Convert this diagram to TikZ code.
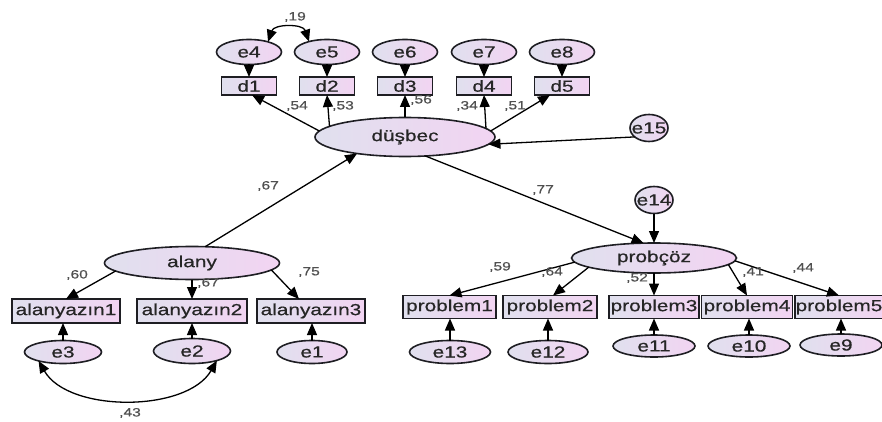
\documentclass[tikz,border=0pt]{standalone}
\usepackage{fontspec}
\setmainfont[FakeStretch=1.3,FakeBold=0.6]{Liberation Sans}
\usetikzlibrary{shapes.geometric,arrows.meta,calc}
\definecolor{latL}{RGB}{224,224,238}
\definecolor{latR}{RGB}{242,212,242}
\definecolor{edgec}{RGB}{30,30,35}
\definecolor{labc}{RGB}{80,80,80}
\newcommand\ndfont{\fontsize{16}{16}\selectfont}
\newcommand\lbfont{\fontsize{12}{12}\selectfont}
\begin{document}
\begin{tikzpicture}[x=1pt,y=-1pt,
 lat/.style={ellipse, draw=edgec, line width=1.6pt, left color=latL, right color=latR, inner sep=0pt, outer sep=0pt, font=\ndfont, text=black!85},
 obs/.style={rectangle, draw=edgec, line width=1.6pt, left color=latL, right color=latR, inner sep=0pt, outer sep=0pt, font=\ndfont, text=black!85},
 pth/.style={-{Triangle[length=12pt,width=10pt]}, line width=1.3pt, draw=black},
 cov/.style={{Triangle[length=12pt,width=10pt]}-{Triangle[length=12pt,width=10pt]}, line width=1.3pt, draw=black},
 lab/.style={font=\lbfont, text=labc, inner sep=0pt}]
\useasboundingbox[fill=white] (0,0) rectangle (882,422);

% top error terms
\node[lat, minimum width=65pt, minimum height=25pt] (e4) at (249,52) {e4};
\node[lat, minimum width=65pt, minimum height=25pt] (e5) at (327,52) {e5};
\node[lat, minimum width=65pt, minimum height=25pt] (e6) at (405,52) {e6};
\node[lat, minimum width=65pt, minimum height=25pt] (e7) at (484,52) {e7};
\node[lat, minimum width=65pt, minimum height=25pt] (e8) at (562,52) {e8};
% d boxes
\node[obs, minimum width=55pt, minimum height=18pt] (d1) at (249,86) {d1};
\node[obs, minimum width=55pt, minimum height=18pt] (d2) at (327,86) {d2};
\node[obs, minimum width=55pt, minimum height=18pt] (d3) at (405,86) {d3};
\node[obs, minimum width=55pt, minimum height=18pt] (d4) at (484,86) {d4};
\node[obs, minimum width=55pt, minimum height=18pt] (d5) at (562,86) {d5};
% latent dusbec
\node[lat, minimum width=180pt, minimum height=39pt] (dus) at (405,137) {düşbec};
\node[lat, minimum width=38pt, minimum height=27pt] (e15) at (649,128) {\makebox[0pt]{e15}};
% alany block
\node[lat, minimum width=175pt, minimum height=33pt] (alany) at (192,263) {alany};
\node[obs, minimum width=108pt, minimum height=24pt] (a1) at (66,311) {alanyazın1};
\node[obs, minimum width=110pt, minimum height=24pt] (a2) at (192,311) {alanyazın2};
\node[obs, minimum width=108pt, minimum height=24pt] (a3) at (311,311) {alanyazın3};
\node[lat, minimum width=77pt, minimum height=23pt] (e3) at (63,352) {e3};
\node[lat, minimum width=77pt, minimum height=25pt] (e2) at (192,351) {e2};
\node[lat, minimum width=70pt, minimum height=23pt] (e1) at (312,352) {e1};
% probcoz block
\node[lat, minimum width=165pt, minimum height=30pt] (prob) at (654,258) {probçöz};
\node[lat, minimum width=38pt, minimum height=27pt] (e14) at (654,200) {\makebox[0pt]{e14}};
\node[obs, minimum width=93pt, minimum height=23pt] (p1) at (449.5,307) {problem1};
\node[obs, minimum width=94pt, minimum height=23pt] (p2) at (550,307) {problem2};
\node[obs, minimum width=90pt, minimum height=23pt] (p3) at (654,307) {problem3};
\node[obs, minimum width=91pt, minimum height=23pt] (p4) at (747,307) {problem4};
\node[obs, minimum width=88pt, minimum height=23pt] (p5) at (839,307) {problem5};
\node[lat, minimum width=81pt, minimum height=23pt] (e13) at (450,352) {e13};
\node[lat, minimum width=80pt, minimum height=23pt] (e12) at (548,352) {e12};
\node[lat, minimum width=82pt, minimum height=22pt] (e11) at (654,346) {e11};
\node[lat, minimum width=82pt, minimum height=22pt] (e10) at (749,346) {e10};
\node[lat, minimum width=82pt, minimum height=22pt] (e9) at (841,345) {e9};

% error arrows top
\foreach \e/\d in {e4/d1,e5/d2,e6/d3,e7/d4,e8/d5}
  \draw[pth] (\e.south) -- (\d.north);
\draw[cov] (e4.28) .. controls +(6,-18) and +(-6,-18) .. (e5.150);
\node[lab] (l19) at (295,17) {,19};

% dusbec to d boxes
\draw[pth] (dus.176) -- ([xshift=3pt]d1.south);
\draw[pth] (dus.172.7) -- (d2.south);
\draw[pth] (dus.north) -- (d3.south);
\draw[pth] (dus.6.7) -- (d4.south);
\draw[pth] (dus.4) -- ([xshift=-12pt]d5.south);
\node[lab] (l54) at (297,106) {,54};
\node[lab] (l53) at (343,106) {,53};
\node[lab] (l56) at (421,100) {,56};
\node[lab] (l34) at (467,106) {,34};
\node[lab] (l51) at (515,106) {,51};
\draw[pth] (e15.212) -- (dus.-5);

% alany to dusbec, dusbec to probcoz
\draw[pth] (alany.51) -- (dus.199);
\node[lab] (l67a) at (268,186) {,67};
\draw[pth] (dus.-43) -- (prob.125);
\node[lab] (l77) at (543,190) {,77};
\draw[pth] (e14.south) -- (prob.north);

% alany indicators
\draw[pth] (alany.186) -- (a1.north);
\draw[pth] (alany.south) -- (a2.north);
\draw[pth] (alany.-5.5) -- ([xshift=-12pt]a3.north);
\node[lab] (l60) at (77,275) {,60};
\node[lab] (l67b) at (208,283) {,67};
\node[lab] (l75) at (309,272) {,75};
\draw[pth] (e3.north) -- (e3.north |- a1.south);
\draw[pth] (e2.north) -- (a2.south);
\draw[pth] (e1.north) -- (e1.north |- a3.south);
\draw[cov] (e3.200) .. controls +(30,52) and +(-30,52) .. (e2.-21);
\node[lab] (l43) at (130,413) {,43};

% probcoz indicators
\draw[pth] (prob.183) -- (p1.north);
\draw[pth] (prob.188) -- ([xshift=3pt]p2.north);
\draw[pth] (prob.south) -- (p3.north);
\draw[pth] (prob.-5.5) -- (p4.north);
\draw[pth] (prob.-2) -- (p5.north);
\node[lab] (l59) at (500,267) {,59};
\node[lab] (l64) at (552,272) {,64};
\node[lab] (l52) at (637,278) {,52};
\node[lab] (l41) at (753,272) {,41};
\node[lab] (l44) at (803,268) {,44};
\foreach \e/\p in {e13/p1,e12/p2,e11/p3,e10/p4,e9/p5}
  \draw[pth] (\e.north) -- (\e.north |- \p.south);
\end{tikzpicture}
\end{document}
